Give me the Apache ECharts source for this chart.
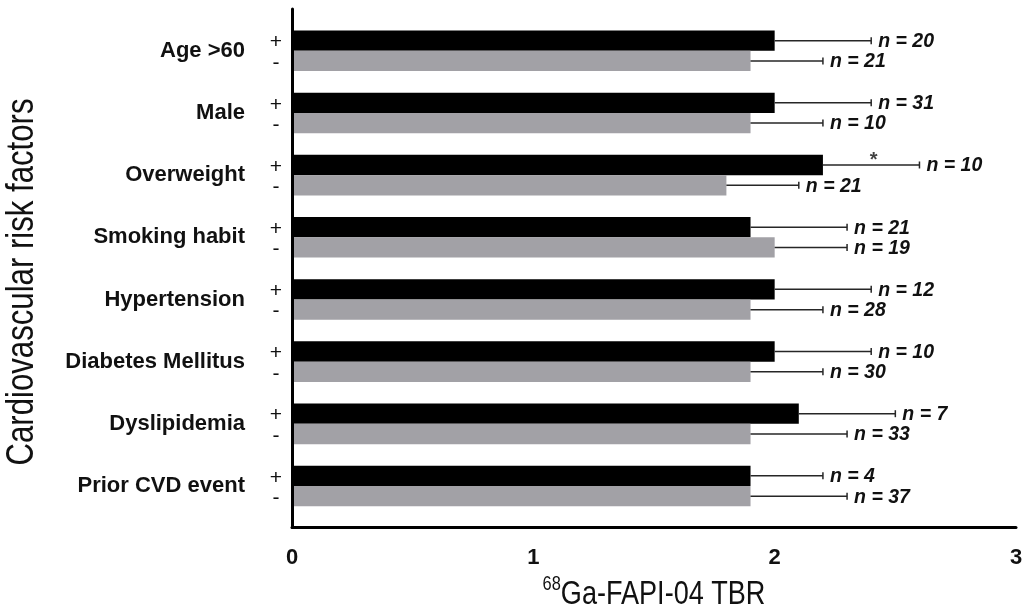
<!DOCTYPE html>
<html>
<head>
<meta charset="utf-8">
<script src="https://cdn.jsdelivr.net/npm/echarts@6/dist/echarts.min.js"></script>
<style>
html,body{margin:0;padding:0;background:#fff;}
#chart{width:1026px;height:606px;}
</style>
</head>
<body>
<div id="chart"></div>
<script>
const categories = ['Age >60','Male','Overweight','Smoking habit','Hypertension','Diabetes Mellitus','Dyslipidemia','Prior CVD event'];
const posMean  = [2.0, 2.0, 2.2, 1.9, 2.0, 2.0, 2.1, 1.9];
const posUpper = [2.4, 2.4, 2.6, 2.3, 2.4, 2.4, 2.5, 2.2];
const posN     = [20, 31, 10, 21, 12, 10, 7, 4];
const negMean  = [1.9, 1.9, 1.8, 2.0, 1.9, 1.9, 1.9, 1.9];
const negUpper = [2.2, 2.2, 2.1, 2.3, 2.2, 2.2, 2.3, 2.3];
const negN     = [21, 10, 21, 19, 28, 30, 33, 37];
const xTicks   = [0, 1, 2, 3];
const starPoint = [[2.41, 2]]; // significance marker on Overweight (+)
const yTitle = 'Cardiovascular risk factors';
const xTitleSup = '68';
const xTitleMain = 'Ga-FAPI-04 TBR';

const BAR_FRAC = 0.3265;   // bar thickness as fraction of category pitch
const OFFSET = 0.1633;     // bar centre offset from category centre
const FONT = '"Liberation Sans", Arial, sans-serif';

function makeSeries(name, means, uppers, ns, offset, color, sign, signDy) {
  return {
    type: 'custom',
    name: name,
    clip: false,
    z: 2,
    data: means.map((m, i) => [m, i, uppers[i], ns[i]]),
    encode: { x: [0, 2], y: 1 },
    renderItem: function (params, api) {
      const v = api.value(0), idx = api.value(1), up = api.value(2), n = api.value(3);
      const yc = idx + offset;
      const pitch = Math.abs(api.size([0, 1])[1]);
      const h = pitch * BAR_FRAC;
      const p0 = api.coord([0, yc]);
      const p1 = api.coord([v, yc]);
      const p2 = api.coord([up, yc]);
      const capH = 7;
      return {
        type: 'group',
        children: [
          { type: 'rect', shape: { x: p0[0], y: p0[1] - h / 2, width: p1[0] - p0[0], height: h }, style: { fill: color } },
          { type: 'line', shape: { x1: p1[0], y1: p1[1], x2: p2[0], y2: p2[1] }, style: { stroke: '#262626', lineWidth: 1.5 } },
          { type: 'line', shape: { x1: p2[0], y1: p2[1] - capH / 2, x2: p2[0], y2: p2[1] + capH / 2 }, style: { stroke: '#262626', lineWidth: 1.5 } },
          { type: 'text', x: p2[0] + 7, y: p2[1] + 1, style: { text: 'n = ' + n, font: 'italic bold 19.5px ' + FONT, fill: '#111', textAlign: 'left', textVerticalAlign: 'middle' } },
          { type: 'text', x: p0[0] - 16, y: p0[1] + signDy, style: { text: sign, font: '21px ' + FONT, fill: '#111', textAlign: 'center', textVerticalAlign: 'middle' } }
        ]
      };
    }
  };
}

const chart = echarts.init(document.getElementById('chart'), null, { renderer: 'canvas' });
chart.setOption({
  animation: false,
  backgroundColor: '#fff',
  grid: { left: 292, right: 10, top: 9, bottom: 78.5, containLabel: false, outerBoundsMode: 'none' },
  xAxis: {
    type: 'value', min: 0, max: 3, interval: 1, z: 10,
    axisLine: { show: true, onZero: false, lineStyle: { color: '#000', width: 3 } },
    axisTick: { show: false },
    splitLine: { show: false },
    axisLabel: { margin: 19, fontFamily: FONT, fontWeight: 'bold', fontSize: 22, color: '#111',
      customValues: xTicks }
  },
  yAxis: {
    type: 'value', inverse: true, min: -0.672, max: 7.667, z: 10,
    axisLine: { show: true, onZero: false, lineStyle: { color: '#000', width: 3 } },
    axisTick: { show: false },
    splitLine: { show: false },
    axisLabel: {
      customValues: categories.map((c, i) => i),
      formatter: function (v) { return categories[Math.round(v)] || ''; },
      margin: 47, fontFamily: FONT, fontWeight: 'bold', fontSize: 22, color: '#111'
    }
  },
  graphic: [
    {
      type: 'text', x: 23, y: 282, rotation: Math.PI / 2, scaleX: 0.82, scaleY: 1,
      style: { text: yTitle, font: '38px ' + FONT, fill: '#111', textAlign: 'center', textVerticalAlign: 'middle' }
    },
    {
      type: 'text', x: 654, y: 591, scaleX: 0.82, scaleY: 1,
      style: {
        text: '{sup|' + xTitleSup + '}{main|' + xTitleMain + '}',
        textAlign: 'center', textVerticalAlign: 'middle',
        rich: {
          sup: { font: '20px ' + FONT, fill: '#111', verticalAlign: 'top', lineHeight: 20 },
          main: { font: '33px ' + FONT, fill: '#111', lineHeight: 34, padding: [8, 0, 0, 0] }
        }
      }
    }
  ],
  series: [
    makeSeries('+', posMean, posUpper, posN, -OFFSET, '#000000', '+', 2),
    makeSeries('-', negMean, negUpper, negN, OFFSET, '#a2a1a6', '-', 2),
    {
      type: 'scatter', name: 'sig', data: starPoint.map(p => [p[0], p[1] - OFFSET]),
      symbolSize: 0.1, itemStyle: { color: 'rgba(0,0,0,0)' }, silent: true, z: 3,
      label: { show: true, formatter: '*', position: 'inside', offset: [0, -5], fontFamily: FONT, fontWeight: 'bold', fontSize: 20, color: '#111' }
    }
  ]
});
</script>
</body>
</html>
